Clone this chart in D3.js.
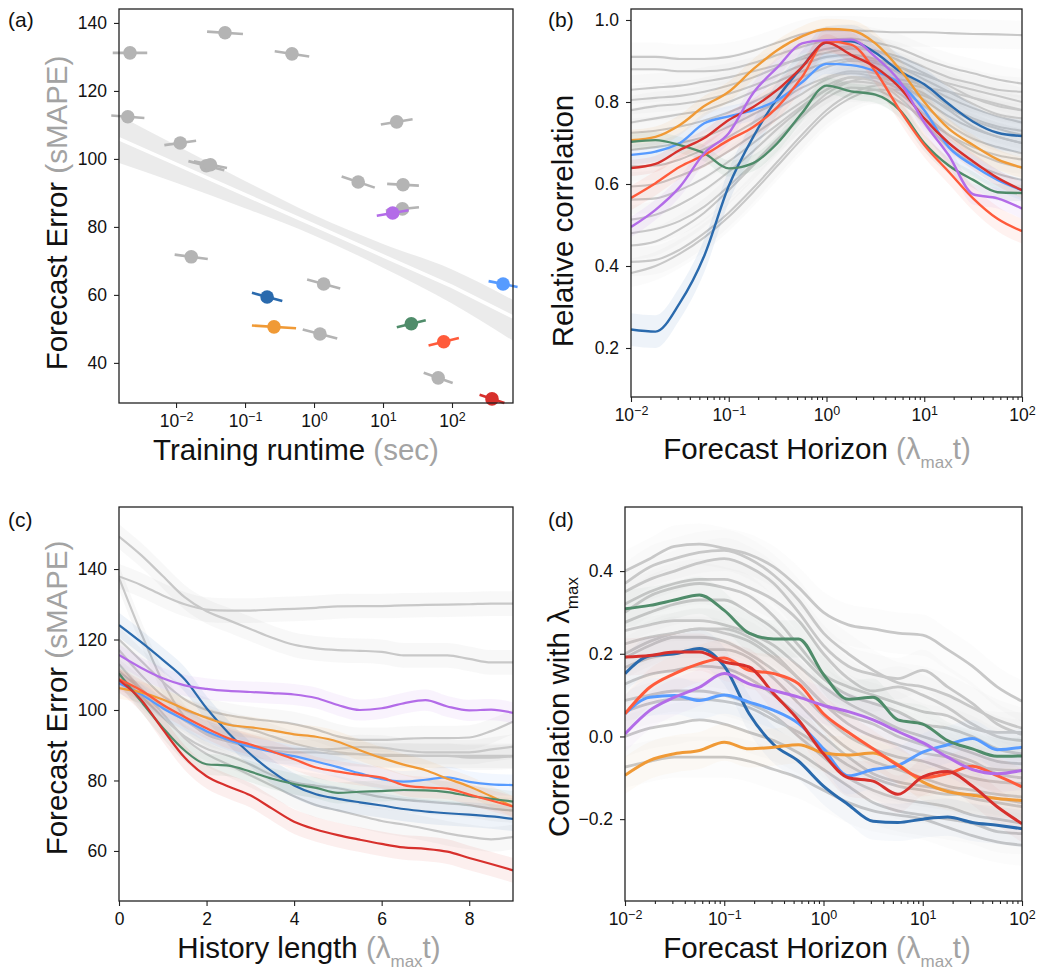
<!DOCTYPE html>
<html>
<head>
<meta charset="utf-8">
<script src="https://cdnjs.cloudflare.com/ajax/libs/d3/7.8.5/d3.min.js"></script>
<style>
    body { margin: 0; background: #fff; }
    svg { font-family: "Liberation Sans", Arial, Helvetica, sans-serif; }
    .axis text { font-family: "Liberation Sans", Arial, Helvetica, sans-serif; font-size: 17.5px; fill: #111; }
    .axis line { stroke: #222; stroke-width: 1.1; }
</style>
</head>
<body>
<svg id="fig" width="1039" height="971"></svg>
<script>

// coloured models, same order in every panel
var hiColors = ["#2a6aad", "#579bff", "#f09a36", "#4f8c6a", "#ff5b3b", "#d7302c", "#b36ce8"];
var greyLine = "#c8c8c8";
var greyDot = "#b4b4b4";
var greyText = "#a3a3a3";

// ---- (a) runtime vs error
var greyRuntime = [0.00215, 0.0513, 0.479, 0.0020, 0.0115, 0.0275, 0.0315, 15.8, 4.37, 19.5, 19.1, 0.0166, 1.38, 1.22, 63.1];
var greySmape   = [131.2, 137.1, 130.9, 112.4, 104.7, 98.0, 98.3, 110.9, 93.2, 92.4, 85.3, 71.2, 63.2, 48.5, 35.6];
var greyTilt    = [0, -0.7, -1.5, -0.7, 1.3, -2.7, -2.0, 1.5, -3.3, -0.5, 1.0, -1.3, -2.6, -2.6, -3.0];
var greySpread  = [0.25, 0.26, 0.25, 0.24, 0.23, 0.26, 0.24, 0.23, 0.24, 0.23, 0.24, 0.24, 0.24, 0.25, 0.21];
var hiRuntime = [0.209, 550, 0.263, 25.7, 75.9, 380, 13.8];
var hiSmape   = [59.4, 63.2, 50.6, 51.5, 46.2, 29.4, 84.1];
var hiTilt    = [-2.4, -1.7, -0.8, 2.1, 2.2, -2.4, 1.6];
var hiSpread  = [0.22, 0.21, 0.32, 0.21, 0.22, 0.18, 0.23];
var regRuntime = [0.0015, 0.01, 0.1, 1, 10, 100, 766];
var regFit     = [105.9, 98.5, 89.5, 80.5, 71.5, 62.5, 53.5];
var regUpper   = [112.8, 104.0, 93.5, 83.5, 75.0, 67.5, 58.5];
var regLower   = [98.8, 93.0, 85.5, 77.5, 68.0, 57.5, 46.5];

// ---- (b) relative correlation vs horizon
var horizon = [0.01, 0.0178, 0.0316, 0.0562, 0.1, 0.178, 0.316, 0.562, 1, 1.78, 3.16, 5.62, 10, 17.8, 31.6, 56.2, 100];
var corrHi = [
    [0.245, 0.24, 0.31, 0.425, 0.595, 0.715, 0.81, 0.885, 0.945, 0.948, 0.92, 0.875, 0.843, 0.795, 0.752, 0.725, 0.717],
    [0.671, 0.679, 0.70, 0.748, 0.765, 0.78, 0.805, 0.848, 0.893, 0.89, 0.875, 0.845, 0.78, 0.69, 0.645, 0.61, 0.585],
    [0.707, 0.715, 0.744, 0.79, 0.825, 0.88, 0.927, 0.96, 0.978, 0.975, 0.943, 0.88, 0.80, 0.735, 0.695, 0.66, 0.64],
    [0.703, 0.707, 0.695, 0.675, 0.638, 0.651, 0.70, 0.773, 0.84, 0.826, 0.818, 0.78, 0.70, 0.645, 0.61, 0.58, 0.578],
    [0.566, 0.602, 0.642, 0.671, 0.707, 0.739, 0.788, 0.861, 0.948, 0.94, 0.875, 0.78, 0.695, 0.63, 0.565, 0.515, 0.485],
    [0.639, 0.649, 0.683, 0.712, 0.756, 0.788, 0.83, 0.885, 0.945, 0.915, 0.885, 0.835, 0.76, 0.70, 0.655, 0.615, 0.585],
    [0.495, 0.537, 0.593, 0.675, 0.724, 0.822, 0.885, 0.943, 0.951, 0.952, 0.91, 0.85, 0.75, 0.67, 0.575, 0.565, 0.54]
];
var corrHiBand = [0.04, 0.025, 0.025, 0.02, 0.03, 0.02, 0.025];
var corrGrey = [
    [0.91, 0.91, 0.905, 0.905, 0.91, 0.925, 0.945, 0.965, 0.975, 0.975, 0.972, 0.97, 0.97, 0.968, 0.966, 0.965, 0.963],
    [0.88, 0.88, 0.875, 0.875, 0.88, 0.895, 0.915, 0.935, 0.95, 0.955, 0.945, 0.93, 0.905, 0.885, 0.87, 0.855, 0.845],
    [0.83, 0.835, 0.84, 0.85, 0.86, 0.875, 0.89, 0.905, 0.92, 0.93, 0.925, 0.91, 0.885, 0.86, 0.845, 0.83, 0.825],
    [0.805, 0.81, 0.815, 0.825, 0.84, 0.86, 0.885, 0.91, 0.93, 0.935, 0.925, 0.9, 0.87, 0.84, 0.81, 0.79, 0.78],
    [0.78, 0.79, 0.795, 0.805, 0.82, 0.84, 0.865, 0.89, 0.91, 0.915, 0.905, 0.885, 0.855, 0.825, 0.795, 0.77, 0.76],
    [0.75, 0.76, 0.77, 0.78, 0.80, 0.825, 0.85, 0.875, 0.895, 0.905, 0.9, 0.885, 0.865, 0.845, 0.83, 0.815, 0.80],
    [0.725, 0.73, 0.74, 0.755, 0.775, 0.80, 0.83, 0.86, 0.885, 0.9, 0.895, 0.87, 0.835, 0.79, 0.76, 0.74, 0.73],
    [0.683, 0.69, 0.70, 0.715, 0.74, 0.77, 0.80, 0.835, 0.86, 0.875, 0.87, 0.845, 0.805, 0.765, 0.735, 0.715, 0.70],
    [0.643, 0.645, 0.66, 0.685, 0.715, 0.75, 0.785, 0.82, 0.855, 0.87, 0.86, 0.83, 0.79, 0.745, 0.71, 0.69, 0.675],
    [0.594, 0.60, 0.62, 0.645, 0.68, 0.72, 0.76, 0.80, 0.84, 0.86, 0.86, 0.845, 0.82, 0.78, 0.74, 0.715, 0.70],
    [0.562, 0.565, 0.585, 0.615, 0.655, 0.70, 0.745, 0.79, 0.83, 0.85, 0.845, 0.82, 0.77, 0.72, 0.68, 0.655, 0.64],
    [0.513, 0.525, 0.55, 0.585, 0.63, 0.68, 0.735, 0.785, 0.83, 0.86, 0.85, 0.81, 0.75, 0.69, 0.65, 0.625, 0.61],
    [0.48, 0.49, 0.51, 0.545, 0.595, 0.65, 0.71, 0.765, 0.81, 0.835, 0.83, 0.80, 0.76, 0.72, 0.69, 0.67, 0.66],
    [0.45, 0.46, 0.49, 0.53, 0.585, 0.645, 0.705, 0.765, 0.82, 0.85, 0.86, 0.855, 0.84, 0.81, 0.785, 0.765, 0.75],
    [0.41, 0.415, 0.44, 0.48, 0.53, 0.59, 0.655, 0.72, 0.78, 0.82, 0.84, 0.845, 0.835, 0.825, 0.81, 0.795, 0.78],
    [0.383, 0.40, 0.43, 0.47, 0.52, 0.58, 0.645, 0.71, 0.77, 0.81, 0.83, 0.83, 0.815, 0.785, 0.755, 0.735, 0.72]
];
var corrGreyBand = 0.035;

// ---- (c) error vs history length
var histLength = [0, 0.5, 1, 1.5, 2, 2.5, 3, 3.5, 4, 4.5, 5, 5.5, 6, 6.5, 7, 7.5, 8, 8.5, 9];
var histHi = [
    [124.1, 119.3, 114.2, 108.7, 100.5, 93.5, 87.5, 82.5, 78.6, 76.1, 74.8, 73.8, 72.9, 71.9, 71.2, 70.7, 70.3, 69.8, 69.1],
    [107.6, 104.5, 100.5, 97.2, 94.0, 91.5, 89.6, 88.1, 86.9, 85.4, 83.8, 82.0, 80.4, 79.7, 80.2, 80.9, 79.6, 78.9, 78.7],
    [106.2, 105.0, 103.0, 100.3, 97.8, 95.8, 95.1, 94.2, 93.1, 92.4, 91.0, 88.6, 86.4, 84.5, 82.9, 80.5, 78.3, 75.5, 72.6],
    [110.4, 102.5, 95.0, 88.5, 84.6, 84.2, 82.5, 80.5, 79.0, 77.9, 76.5, 76.8, 77.0, 77.3, 77.2, 76.7, 75.6, 74.8, 74.0],
    [108.7, 105.6, 101.5, 98.0, 94.8, 92.0, 90.2, 88.2, 86.0, 83.7, 82.5, 81.6, 80.8, 78.7, 78.0, 77.7, 76.0, 74.3, 72.6],
    [108.5, 103.0, 94.5, 86.5, 81.2, 78.3, 75.8, 72.0, 68.3, 66.1, 64.5, 63.2, 62.0, 61.0, 60.6, 59.8, 58.0, 56.3, 54.5],
    [115.6, 112.0, 109.0, 107.0, 106.0, 105.4, 105.1, 104.8, 104.4, 103.4, 101.4, 100.0, 100.5, 101.9, 102.8, 101.0, 99.9, 100.1, 99.2]
];
var histHiBand = [3.5, 3, 3, 3, 3, 3.5, 3];
var histGrey = [
    [149.2, 144.0, 138.0, 132.0, 128.0, 125.5, 123.0, 120.5, 118.5, 117.5, 117.0, 116.8, 116.5, 115.5, 115.5, 115.5, 114.5, 113.5, 113.5],
    [137.9, 135.5, 132.5, 130.0, 128.5, 128.2, 128.2, 128.5, 128.7, 129.0, 129.4, 129.5, 129.5, 129.7, 129.8, 129.9, 130.0, 130.2, 130.2],
    [137.5, 122.0, 108.0, 98.0, 93.0, 91.0, 89.5, 88.5, 88.0, 88.0, 87.5, 87.5, 87.3, 87.2, 87.0, 87.0, 87.0, 87.0, 87.0],
    [120.0, 114.0, 108.0, 103.0, 100.0, 98.5, 97.5, 96.8, 96.0, 94.5, 92.5, 91.5, 91.5, 91.8, 92.0, 92.0, 92.2, 94.0, 96.7],
    [111.0, 106.0, 101.0, 97.0, 93.5, 91.5, 90.0, 89.3, 89.0, 88.8, 89.0, 89.5, 89.3, 88.5, 88.0, 88.0, 88.0, 88.8, 89.6],
    [113.0, 106.0, 99.0, 92.0, 87.5, 84.5, 81.5, 78.5, 75.5, 73.0, 71.5, 70.0, 68.5, 67.5, 66.3, 65.0, 64.0, 63.3, 64.0],
    [110.0, 104.0, 98.0, 92.5, 89.0, 87.0, 84.5, 81.5, 79.5, 78.5, 77.8, 76.5, 75.3, 74.5, 74.0, 73.5, 73.0, 72.0, 71.5],
    [117.0, 110.0, 104.0, 100.0, 98.0, 96.0, 94.5, 92.5, 90.5, 89.0, 88.0, 87.5, 87.0, 87.0, 87.0, 87.0, 86.5, 86.5, 86.8]
];
var histGreyBand = 3.5;

// ---- (d) correlation with lambda_max vs horizon
var lamHi = [
    [0.152, 0.195, 0.20, 0.213, 0.17, 0.055, -0.02, -0.06, -0.12, -0.165, -0.205, -0.208, -0.2, -0.195, -0.208, -0.215, -0.223],
    [0.055, 0.095, 0.099, 0.087, 0.10, 0.083, 0.063, 0.031, -0.03, -0.095, -0.08, -0.07, -0.038, -0.02, -0.005, -0.032, -0.026],
    [-0.094, -0.058, -0.042, -0.034, -0.014, -0.03, -0.026, -0.02, -0.04, -0.045, -0.04, -0.068, -0.11, -0.133, -0.142, -0.15, -0.155],
    [0.309, 0.317, 0.33, 0.342, 0.305, 0.25, 0.236, 0.236, 0.15, 0.09, 0.095, 0.04, 0.03, -0.01, -0.03, -0.048, -0.047],
    [0.055, 0.119, 0.152, 0.176, 0.19, 0.16, 0.152, 0.127, 0.055, 0.01, -0.03, -0.07, -0.10, -0.09, -0.072, -0.095, -0.122],
    [0.192, 0.196, 0.204, 0.204, 0.18, 0.168, 0.103, 0.039, -0.042, -0.10, -0.108, -0.14, -0.098, -0.085, -0.12, -0.17, -0.211],
    [0.006, 0.063, 0.095, 0.119, 0.152, 0.127, 0.111, 0.095, 0.075, 0.06, 0.04, 0.012, -0.015, -0.05, -0.08, -0.09, -0.082]
];
var lamHiBand = 0.045;
var lamGrey = [
    [0.40, 0.43, 0.46, 0.465, 0.455, 0.44, 0.41, 0.36, 0.30, 0.27, 0.26, 0.25, 0.245, 0.21, 0.17, 0.12, 0.085],
    [0.37, 0.41, 0.43, 0.445, 0.45, 0.43, 0.39, 0.33, 0.25, 0.20, 0.16, 0.13, 0.12, 0.10, 0.07, 0.04, 0.02],
    [0.35, 0.38, 0.40, 0.42, 0.43, 0.41, 0.37, 0.30, 0.22, 0.17, 0.15, 0.14, 0.16, 0.12, 0.08, 0.03, 0.005],
    [0.32, 0.35, 0.37, 0.38, 0.38, 0.36, 0.33, 0.28, 0.20, 0.14, 0.11, 0.12, 0.10, 0.07, 0.03, 0.0, -0.01],
    [0.30, 0.34, 0.36, 0.37, 0.36, 0.34, 0.29, 0.22, 0.15, 0.12, 0.10, 0.08, 0.06, 0.05, 0.02, 0.01, 0.01],
    [0.276, 0.30, 0.32, 0.33, 0.33, 0.30, 0.26, 0.20, 0.14, 0.10, 0.08, 0.06, 0.03, 0.02, 0.0, -0.03, -0.042],
    [0.256, 0.27, 0.28, 0.28, 0.27, 0.25, 0.22, 0.17, 0.12, 0.08, 0.05, 0.02, 0.0, -0.02, -0.04, -0.06, -0.066],
    [0.224, 0.24, 0.25, 0.26, 0.25, 0.23, 0.19, 0.14, 0.08, 0.03, 0.0, -0.02, -0.04, -0.05, -0.07, -0.08, -0.082],
    [0.20, 0.23, 0.25, 0.26, 0.26, 0.24, 0.20, 0.14, 0.08, 0.05, 0.03, 0.0, -0.02, -0.04, -0.06, -0.09, -0.10],
    [0.19, 0.22, 0.24, 0.24, 0.23, 0.20, 0.16, 0.11, 0.05, 0.0, -0.03, -0.05, -0.06, -0.08, -0.10, -0.11, -0.114],
    [0.167, 0.19, 0.20, 0.21, 0.21, 0.19, 0.14, 0.08, 0.02, -0.03, -0.06, -0.08, -0.10, -0.12, -0.13, -0.14, -0.146],
    [0.127, 0.15, 0.16, 0.17, 0.165, 0.14, 0.10, 0.05, 0.0, -0.05, -0.09, -0.11, -0.12, -0.13, -0.15, -0.16, -0.17],
    [0.087, 0.10, 0.11, 0.11, 0.10, 0.08, 0.05, 0.0, -0.05, -0.10, -0.13, -0.15, -0.16, -0.17, -0.19, -0.20, -0.21],
    [0.06, 0.08, 0.09, 0.09, 0.085, 0.07, 0.04, 0.01, -0.03, -0.07, -0.10, -0.12, -0.13, -0.14, -0.14, -0.15, -0.16],
    [0.0, 0.02, 0.03, 0.04, 0.03, 0.01, -0.01, -0.04, -0.08, -0.12, -0.16, -0.18, -0.19, -0.20, -0.21, -0.23, -0.235],
    [-0.074, -0.06, -0.05, -0.05, -0.05, -0.06, -0.08, -0.10, -0.13, -0.16, -0.18, -0.19, -0.20, -0.22, -0.24, -0.255, -0.263]
];
var lamGreyBand = 0.05;

var logTicks = [0.01, 0.1, 1, 10, 100];
var minorTicks = [];
[0.01, 0.1, 1, 10].forEach(function(b) { for (var k = 2; k < 10; k++) minorTicks.push(b * k); });

var svg = d3.select("#fig");

function panel(left, top, w, h, id) {
    var g = svg.append("g").attr("transform", "translate(" + left + "," + top + ")");
    g.append("clipPath").attr("id", id).append("rect").attr("width", w).attr("height", h);
    return g;
}

function frame(g, w, h) {
    g.append("rect").attr("width", w).attr("height", h)
        .attr("fill", "none").attr("stroke", "#222").attr("stroke-width", 1.3);
}

function supLabels(sel) {
    sel.selectAll(".tick text").each(function(d) {
        var t = d3.select(this), e = Math.round(Math.log10(d));
        t.text(null);
        t.append("tspan").text("10");
        t.append("tspan").attr("dy", "-0.5em").style("font-size", "12.5px")
            .text(e < 0 ? "\u2212" + (-e) : String(e));
    });
}

function xAxisLog(g, x, h, minor) {
    var ax = g.append("g").attr("class", "axis").attr("transform", "translate(0," + h + ")")
        .call(d3.axisBottom(x).tickValues(logTicks).tickSize(5).tickPadding(7).tickSizeOuter(0));
    ax.select(".domain").remove();
    supLabels(ax);
    if (minor) {
        var mx = g.append("g").attr("class", "axis").attr("transform", "translate(0," + h + ")")
            .call(d3.axisBottom(x).tickValues(minorTicks).tickSize(3).tickFormat(""));
        mx.select(".domain").remove();
    }
}

function yAxis(g, y, ticks, fmt) {
    var ax = g.append("g").attr("class", "axis")
        .call(d3.axisLeft(y).tickValues(ticks).tickFormat(fmt).tickSize(5).tickPadding(7).tickSizeOuter(0));
    ax.select(".domain").remove();
}

function axisLabel(x, y, rotate, parts) {
    var t = svg.append("text")
        .attr("transform", "translate(" + x + "," + y + ")" + (rotate ? " rotate(-90)" : ""))
        .attr("text-anchor", "middle").style("font-size", "29.5px");
    parts.forEach(function(p) {
        var s = t.append("tspan").text(p.t).attr("fill", p.c || "#111");
        if (p.sub) s.style("font-size", "17px").attr("dy", 9);
        if (p.after) s.attr("dy", -9);
    });
}

function panelTag(x, y, s) {
    svg.append("text").attr("x", x).attr("y", y).style("font-size", "21px").attr("fill", "#111").text(s);
}

function drawCurves(g, x, y, xs, rows, bands, colors, lw, bandAlpha, clipId) {
    var c = g.append("g").attr("clip-path", "url(#" + clipId + ")");
    var line = d3.line().x(function(d, i) { return x(xs[i]); }).y(function(d) { return y(d); }).curve(d3.curveMonotoneX);
    rows.forEach(function(r, k) {
        var hw = bands[k];
        var area = d3.area().x(function(d, i) { return x(xs[i]); })
            .y0(function(d) { return y(d - hw); }).y1(function(d) { return y(d + hw); })
            .curve(d3.curveMonotoneX);
        c.append("path").datum(r).attr("d", area).attr("fill", colors[k]).attr("fill-opacity", bandAlpha);
    });
    rows.forEach(function(r, k) {
        c.append("path").datum(r).attr("d", line).attr("fill", "none")
            .attr("stroke", colors[k]).attr("stroke-width", lw).attr("stroke-linejoin", "round");
    });
}

function fill(n, v) { return d3.range(n).map(function() { return v; }); }

// ================= (a)
(function() {
    var w = 394, h = 394;
    var g = panel(119, 9, w, h, "clipA");
    var x = d3.scaleLog().domain([0.00149, 766]).range([0, w]);
    var y = d3.scaleLinear().domain([28.2, 144.1]).range([h, 0]);

    var band = d3.area().x(function(d, i) { return x(regRuntime[i]); })
        .y0(function(d, i) { return y(regLower[i]); }).y1(function(d, i) { return y(regUpper[i]); })
        .curve(d3.curveMonotoneX);
    var cg = g.append("g").attr("clip-path", "url(#clipA)");
    cg.append("path").datum(regFit).attr("d", band).attr("fill", "#e4e4e4").attr("fill-opacity", 0.75);
    cg.append("path").datum(regFit)
        .attr("d", d3.line().x(function(d, i) { return x(regRuntime[i]); }).y(function(d) { return y(d); }))
        .attr("fill", "none").attr("stroke", "#fff").attr("stroke-width", 3.5);

    function dots(rt, sm, tilt, spread, colorOf) {
        rt.forEach(function(r, i) {
            var f = Math.pow(10, spread[i]);
            g.append("line")
                .attr("x1", x(r / f)).attr("y1", y(sm[i] - tilt[i] / 2))
                .attr("x2", x(r * f)).attr("y2", y(sm[i] + tilt[i] / 2))
                .attr("stroke", colorOf(i)).attr("stroke-width", 2.6);
        });
        rt.forEach(function(r, i) {
            g.append("circle").attr("cx", x(r)).attr("cy", y(sm[i])).attr("r", 6.8).attr("fill", colorOf(i));
        });
    }
    dots(greyRuntime, greySmape, greyTilt, greySpread, function() { return greyDot; });
    dots(hiRuntime, hiSmape, hiTilt, hiSpread, function(i) { return hiColors[i]; });

    frame(g, w, h);
    yAxis(g, y, [40, 60, 80, 100, 120, 140], d3.format("d"));
    xAxisLog(g, x, h, false);
})();

// ================= (b)
(function() {
    var w = 391, h = 388;
    var g = panel(631, 9, w, h, "clipB");
    var x = d3.scaleLog().domain([0.01, 100]).range([0, w]);
    var y = d3.scaleLinear().domain([0.0805, 1.0268]).range([h, 0]);
    drawCurves(g, x, y, horizon, corrGrey, fill(corrGrey.length, corrGreyBand), fill(corrGrey.length, greyLine), 2.1, 0.08, "clipB");
    drawCurves(g, x, y, horizon, corrHi, corrHiBand, hiColors, 2.4, 0.08, "clipB");
    frame(g, w, h);
    yAxis(g, y, [0.2, 0.4, 0.6, 0.8, 1.0], d3.format(".1f"));
    xAxisLog(g, x, h, true);
})();

// ================= (c)
(function() {
    var w = 394, h = 394;
    var g = panel(119, 507, w, h, "clipC");
    var x = d3.scaleLinear().domain([0, 9]).range([0, w]);
    var y = d3.scaleLinear().domain([45.8, 157.6]).range([h, 0]);
    drawCurves(g, x, y, histLength, histGrey, fill(histGrey.length, histGreyBand), fill(histGrey.length, greyLine), 2.2, 0.12, "clipC");
    drawCurves(g, x, y, histLength, histHi, histHiBand, hiColors, 2.2, 0.08, "clipC");
    frame(g, w, h);
    yAxis(g, y, [60, 80, 100, 120, 140], d3.format("d"));
    var ax = g.append("g").attr("class", "axis").attr("transform", "translate(0," + h + ")")
        .call(d3.axisBottom(x).tickValues([0, 2, 4, 6, 8]).tickFormat(d3.format("d")).tickSize(5).tickPadding(7).tickSizeOuter(0));
    ax.select(".domain").remove();
})();

// ================= (d)
(function() {
    var w = 397, h = 394;
    var g = panel(625, 507, w, h, "clipD");
    var x = d3.scaleLog().domain([0.01, 100]).range([0, w]);
    var y = d3.scaleLinear().domain([-0.398, 0.555]).range([h, 0]);
    drawCurves(g, x, y, horizon, lamGrey, fill(lamGrey.length, lamGreyBand), fill(lamGrey.length, greyLine), 2.8, 0.06, "clipD");
    drawCurves(g, x, y, horizon, lamHi, fill(lamHi.length, lamHiBand), hiColors, 3, 0.04, "clipD");
    frame(g, w, h);
    yAxis(g, y, [-0.2, 0.0, 0.2, 0.4], function(d) { return d3.format(".1f")(d).replace("-", "\u2212"); });
    xAxisLog(g, x, h, true);
})();

// ================= labels
axisLabel(67, 213, true, [{ t: "Forecast Error " }, { t: "(sMAPE)", c: greyText }]);
axisLabel(296, 460, false, [{ t: "Training runtime " }, { t: "(sec)", c: greyText }]);
axisLabel(573, 221, true, [{ t: "Relative correlation" }]);
axisLabel(817, 459, false, [{ t: "Forecast Horizon " }, { t: "(\u03bb", c: greyText }, { t: "max", c: greyText, sub: true }, { t: "t)", c: greyText, after: true }]);
axisLabel(67, 698, true, [{ t: "Forecast Error " }, { t: "(sMAPE)", c: greyText }]);
axisLabel(309, 958, false, [{ t: "History length " }, { t: "(\u03bb", c: greyText }, { t: "max", c: greyText, sub: true }, { t: "t)", c: greyText, after: true }]);
axisLabel(569, 707, true, [{ t: "Correlation with \u03bb" }, { t: "max", sub: true }]);
axisLabel(817, 958, false, [{ t: "Forecast Horizon " }, { t: "(\u03bb", c: greyText }, { t: "max", c: greyText, sub: true }, { t: "t)", c: greyText, after: true }]);

panelTag(8, 27, "(a)");
panelTag(548, 27, "(b)");
panelTag(8, 527, "(c)");
panelTag(548, 527, "(d)");

</script>
</body>
</html>
